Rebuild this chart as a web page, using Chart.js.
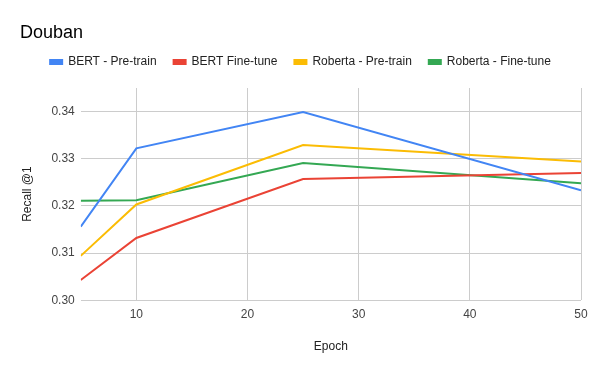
<!DOCTYPE html>
<html>
<head>
<meta charset="utf-8">
<script src="https://cdn.jsdelivr.net/npm/chart.js@4"></script>
<style>
  html, body { margin: 0; padding: 0; background: #fff; }
  #wrap { width: 600px; height: 371px; }
</style>
</head>
<body>
<div id="wrap"><canvas id="chart" width="600" height="371"></canvas></div>
<script>
const epochs = [5, 10, 25, 50];
const bertPretrain = [0.3156, 0.3322, 0.3399, 0.3233];
const bertFinetune = [0.3043, 0.3132, 0.3257, 0.3270];
const robertaPretrain = [0.3094, 0.3203, 0.3329, 0.3294];
const robertaFinetune = [0.3211, 0.3212, 0.3291, 0.3248];
const seriesNames = ["BERT - Pre-train", "BERT Fine-tune", "Roberta - Pre-train", "Roberta - Fine-tune"];
const seriesColors = ["#4285F4", "#EA4335", "#FBBC04", "#34A853"];

const allSeries = [bertPretrain, bertFinetune, robertaPretrain, robertaFinetune];

const datasets = allSeries.map((vals, i) => ({
    label: seriesNames[i],
    data: epochs.map((e, j) => ({ x: e, y: vals[j] })),
    borderColor: seriesColors[i],
    backgroundColor: seriesColors[i],
    borderWidth: 2,
    pointRadius: 0,
    tension: 0
}));

const fontFamily = "'Liberation Sans', Arial, sans-serif";

// push the plot area down a bit below the legend
const legendSpacer = {
    id: "legendSpacer",
    beforeInit(chart) {
        const fit = chart.legend.fit;
        chart.legend.fit = function() {
            fit.bind(chart.legend)();
            this.height += 10;
        };
    }
};

const ctx = document.querySelector("#chart").getContext("2d");
const myChart = new Chart(ctx, {
    type: "line",
    data: { datasets },
    plugins: [legendSpacer],
    options: {
        responsive: false,
        animation: false,
        layout: { padding: { left: 20, right: 19, top: 0, bottom: 13 } },
        plugins: {
            title: {
                display: true,
                text: "Douban",
                align: "start",
                color: "#000",
                font: { family: fontFamily, size: 18, weight: "normal", lineHeight: 1.0 },
                padding: { top: 24, bottom: -3 }
            },
            legend: {
                display: true,
                labels: {
                    boxWidth: 12,
                    boxHeight: 4,
                    color: "#222",
                    font: { family: fontFamily, size: 12 },
                    padding: 17
                }
            },
            tooltip: { enabled: false }
        },
        scales: {
            x: {
                type: "linear",
                min: 5,
                max: 50,
                afterBuildTicks: axis => { axis.ticks = axis.ticks.filter(t => t.value % 10 === 0); },
                ticks: { stepSize: 10, color: "#444", font: { family: fontFamily, size: 12 }, maxRotation: 0, padding: 7 },
                grid: { color: "#ccc", drawTicks: false },
                border: { display: false },
                title: { display: true, text: "Epoch", color: "#222", font: { family: fontFamily, size: 12 }, padding: { top: 11, bottom: 4 } }
            },
            y: {
                min: 0.30,
                max: 0.345,
                afterBuildTicks: axis => { axis.ticks = axis.ticks.filter(t => Math.abs(t.value * 100 - Math.round(t.value * 100)) < 1e-6); },
                ticks: { stepSize: 0.01, color: "#444", font: { family: fontFamily, size: 12 }, padding: 6,
                         callback: v => v.toFixed(2) },
                grid: { color: "#ccc", drawTicks: false },
                border: { display: false },
                title: { display: true, text: "Recall @1", color: "#222", font: { family: fontFamily, size: 12 }, padding: { top: 0, bottom: 11 } }
            }
        }
    }
});
</script>
</body>
</html>
